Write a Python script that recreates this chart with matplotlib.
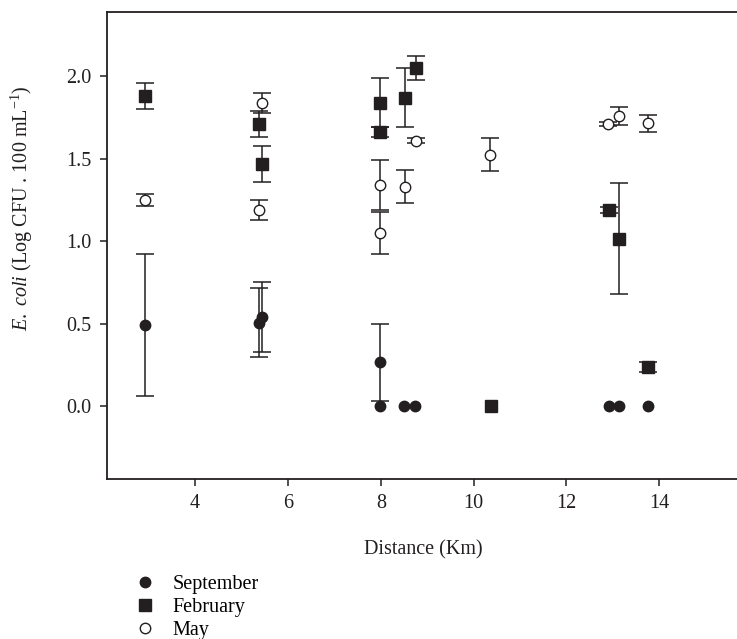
import numpy as np
import matplotlib
matplotlib.use("Agg")
import matplotlib.pyplot as plt

plt.rcParams['font.family'] = ['Liberation Serif', 'DejaVu Serif']
plt.rcParams['mathtext.fontset'] = 'custom'
plt.rcParams['mathtext.rm'] = 'Liberation Serif'
plt.rcParams['mathtext.it'] = 'Liberation Serif:italic'

# September
sep_x = [2.92, 5.38, 5.45, 7.98, 7.98, 8.50, 8.74, 12.91, 13.13, 13.75]
sep_y = [0.49, 0.505, 0.54, 0.265, 0.0, 0.0, 0.0, 0.0, 0.0, 0.0]
sep_err = [0.43, 0.21, 0.21, 0.235, 0.0, 0.0, 0.0, 0.0, 0.0, 0.0]

# February
feb_x = [2.92, 5.38, 5.44, 7.99, 7.99, 8.53, 8.76, 10.37, 12.92, 13.14, 13.76]
feb_y = [1.88, 1.71, 1.47, 1.84, 1.66, 1.87, 2.05, 0.0, 1.19, 1.015, 0.235]
feb_err = [0.08, 0.08, 0.11, 0.15, 0.03, 0.18, 0.075, 0.0, 0.02, 0.335, 0.03]

# May
may_x = [2.92, 5.38, 5.44, 7.98, 7.98, 8.52, 8.76, 10.36, 12.89, 13.14, 13.76]
may_y = [1.25, 1.19, 1.84, 1.34, 1.05, 1.33, 1.61, 1.525, 1.71, 1.76, 1.715]
may_err = [0.035, 0.06, 0.06, 0.15, 0.13, 0.10, 0.015, 0.10, 0.01, 0.055, 0.05]

ink = '#231f20'
fs = 14.5

fig = plt.figure(figsize=(7.37, 6.39), dpi=100)
ax = fig.add_axes([107/737, 1-479/639, (752-107)/737, (479-12)/639])

def draw(x, y, err, marker, ms, face, label):
    x = np.array(x); y = np.array(y); err = np.array(err)
    m = err > 0
    ax.errorbar(x[m], y[m], yerr=err[m], fmt='none', ecolor=ink,
                elinewidth=1.1, capsize=6.5, capthick=1.1, zorder=2)
    ax.plot(x, y, linestyle='none', marker=marker, markersize=ms,
            markerfacecolor=face, markeredgecolor=ink, markeredgewidth=1.0,
            zorder=3, label=label)

draw(sep_x, sep_y, sep_err, 'o', 7.5, ink, 'September')
draw(feb_x, feb_y, feb_err, 's', 8, ink, 'February')
draw(may_x, may_y, may_err, 'o', 7.5, 'white', 'May')

ax.set_xlim(2.1, 16)
ax.set_ylim(-0.442, 2.39)
ax.set_xticks([4, 6, 8, 10, 12, 14])
ax.set_yticks([0.0, 0.5, 1.0, 1.5, 2.0])
ax.set_yticklabels(['0.0', '0.5', '1.0', '1.5', '2.0'])
ax.tick_params(direction='out', length=5, width=1.1, labelsize=fs,
               colors=ink, pad=6)
for s in ax.spines.values():
    s.set_linewidth(1.3)
    s.set_color(ink)

ax.set_xlabel('Distance (Km)', fontsize=fs, color=ink)
ax.xaxis.set_label_coords(0.49, -0.131)
ax.set_ylabel(r'$\mathit{E.\ coli}$ (Log CFU . 100 mL$^{-1}$)', fontsize=fs,
              color=ink)
ax.yaxis.set_label_coords(-0.111, 0.58)

fig.legend(loc='upper left', bbox_to_anchor=(120/737, 1-565/639),
           frameon=False, fontsize=fs, handletextpad=0.6,
           labelspacing=0.2, handlelength=1.5, borderpad=0)

fig.savefig('out.png', dpi=100)
